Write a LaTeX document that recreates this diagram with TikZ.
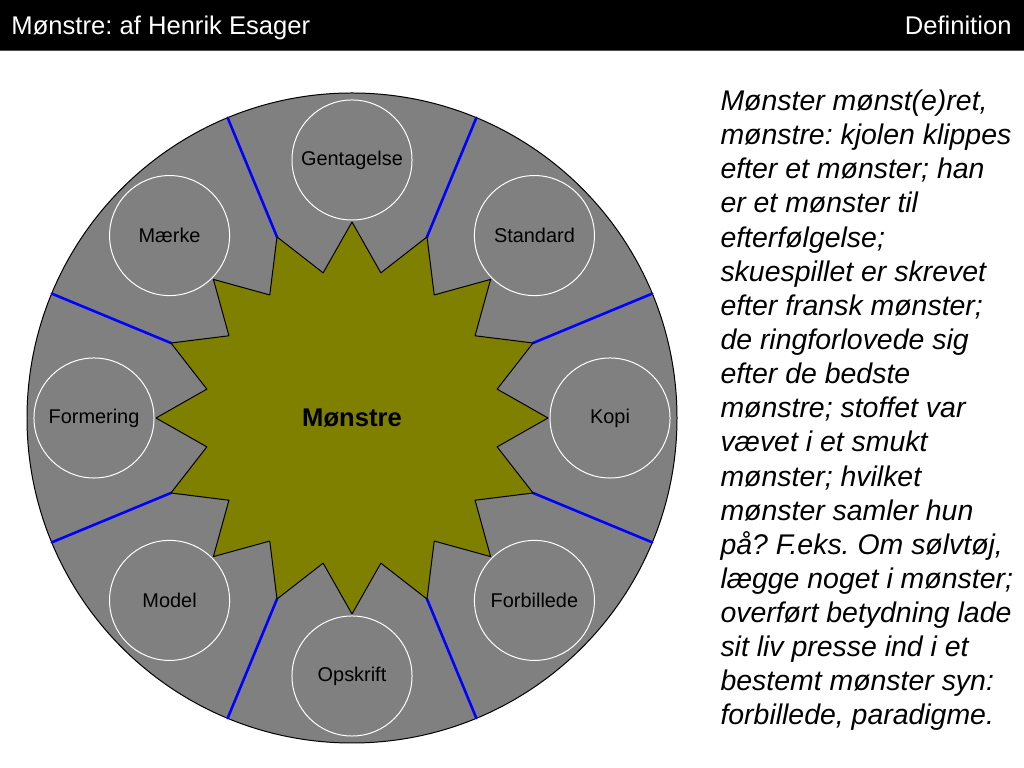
\documentclass[tikz,border=0pt]{standalone}
\usepackage{fontspec}
\setmainfont{Liberation Sans}
\frenchspacing
\definecolor{nengra}{RGB}{128,128,128}
\definecolor{oliven}{RGB}{128,128,0}
\definecolor{kant}{RGB}{80,80,80}
\begin{document}
\begin{tikzpicture}[x=0.703125pt,y=0.703125pt,line width=0.7pt, line join=round, line cap=round,
	ring/.style={circle,draw=white,line width=0.7pt,fill=nengra,minimum size=84.4pt,inner sep=0pt,font={\fontsize{14pt}{16pt}\selectfont}}]
		\useasboundingbox (0,0) rectangle (1024,768);
		% Overskrift
		\fill (0,718) rectangle (1024,768);
		\draw[kant, line width=1pt] (0,717.5) -- (1024,717.5);
		\draw (11,733) node[anchor=base west, inner sep=0pt, white, font={\fontsize{18pt}{20pt}\selectfont}] (titel) {Mønstre: af Henrik Esager};
		\draw (1012,733) node[anchor=base east, inner sep=0pt, white, font={\fontsize{18pt}{20pt}\selectfont}] (afsnit) {Definition};
		% Stor cirkel og stjerne
		\begin{scope}[shift={(352,350)}]
		\draw[fill=nengra] (0,0) circle (325);
		\foreach \a in {22.5,67.5,...,337.5}
			\draw[blue, line width=1.8pt] (\a:196) -- (\a:325);
		\draw[fill=oliven] (90:196) \foreach \a in {0,22.5,...,337.5}{ -- (\a+101.25:148) -- (\a+112.5:196)} -- cycle;
		\draw (0,0) node[font={\bfseries\fontsize{18pt}{20pt}\selectfont}] (monster) {Mønstre};
		\foreach \a/\t/\n in {90/Gentagelse/gentagelse, 45/Standard/standard, 0/Kopi/kopi, -45/Forbillede/forbillede,
			-90/Opskrift/opskrift, -135/Model/model, 180/Formering/formering, 135/Mærke/maerke}
			\node[ring] (\n) at (\a:258) {\t};
		\end{scope}
		% Definition (sidste linjes grundlinje)
		\draw (720,43) node[anchor=base west, align=left, inner sep=0pt, font={\itshape\fontsize{20pt}{24pt}\selectfont}] (tekst) {Mønster mønst(e)ret,\\
			mønstre: kjolen klippes\\
			efter et mønster; han\\
			er et mønster til\\
			efterfølgelse;\\
			skuespillet er skrevet\\
			efter fransk mønster;\\
			de ringforlovede sig\\
			efter de bedste\\
			mønstre; stoffet var\\
			vævet i et smukt\\
			mønster; hvilket\\
			mønster samler hun\\
			på? F.eks. Om sølvtøj,\\
			lægge noget i mønster;\\
			overført betydning lade\\
			sit liv presse ind i et\\
			bestemt mønster syn:\\
			forbillede, paradigme.};
	\end{tikzpicture}
\end{document}
